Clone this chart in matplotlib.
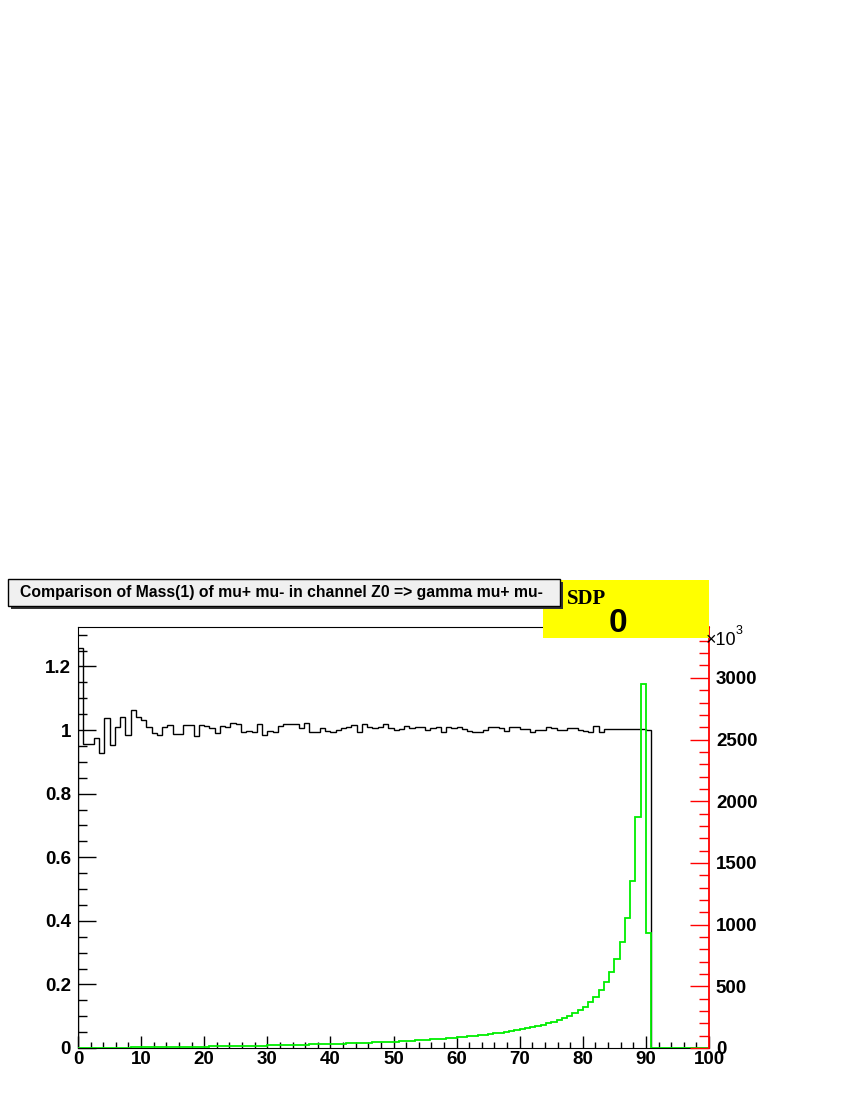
import numpy as np
import matplotlib.pyplot as plt
from matplotlib.patches import Rectangle
from matplotlib.ticker import MultipleLocator, FuncFormatter

plt.rcParams['font.family'] = ['Liberation Sans', 'DejaVu Sans']
plt.rcParams['font.weight'] = 'bold'

# --- data: 120 bins over 0..100, only first 109 filled ---
edges = np.linspace(0, 100, 121)

# ratio histogram (left axis)
ratio = [1.257, 0.955, 0.955, 0.975, 0.928, 1.038, 0.953, 1.010, 1.042, 0.984,
         1.063, 1.042, 1.031, 1.010, 0.990, 0.984, 1.008, 1.016, 0.986, 0.986,
         1.016, 1.016, 0.982, 1.016, 1.013, 1.005, 0.992, 1.013, 1.010, 1.023,
         1.019, 0.993, 0.998, 0.993, 1.019, 0.984, 0.998, 0.993, 1.013, 1.019,
         1.019, 1.019, 1.005, 1.021, 0.993, 0.993, 1.005, 0.998, 0.995, 1.000,
         1.005, 1.008, 1.016, 0.995, 1.019, 1.008, 1.005, 1.010, 1.019, 1.005,
         1.000, 1.003, 1.013, 1.005, 1.010, 1.010, 1.000, 1.005, 1.010, 0.993,
         1.010, 1.005, 1.008, 1.002, 0.998, 0.995, 0.993, 1.000, 1.008, 1.008,
         1.005, 0.998, 1.010, 1.010, 1.003, 1.003, 0.993, 1.000, 1.000, 1.010,
         1.005, 1.000, 1.000, 1.005, 1.005, 1.000, 0.998, 0.995, 1.013, 0.995,
         1.003, 1.003, 1.003, 1.003, 1.002, 1.002, 1.003, 1.003, 1.000]

# mass distribution (right axis, x10^3)
mass = [0.3, 0.6, 0.9, 1.2, 1.6, 2.0, 2.4, 2.9, 3.3, 3.8,
        4.2, 4.7, 5.1, 5.6, 6.1, 6.6, 7.1, 7.6, 8.2, 8.8,
        9.3, 9.9, 10.5, 11.1, 11.8, 12.4, 13.1, 13.8, 14.5, 15.3,
        16.0, 16.8, 17.6, 18.4, 19.3, 20.2, 21.1, 22.0, 23.0, 24.0,
        25.0, 26.1, 27.2, 28.3, 29.5, 30.7, 31.8, 32.9, 34.0, 35.0,
        36.0, 37.5, 39.0, 40.5, 42.0, 43.5, 45.0, 46.5, 48.0, 49.5,
        52.0, 54.0, 56.5, 59.0, 61.5, 64.0, 66.5, 69.0, 72.0, 75.0,
        78, 82, 86, 90, 94, 98, 103, 108, 113, 119,
        125, 131, 138, 145, 152, 160, 169, 179, 190, 202,
        214, 227, 246, 259, 281, 308, 335, 370, 410, 470,
        532, 613, 718, 856, 1056, 1356, 1875, 2950, 934]

ratio_full = np.zeros(120)
ratio_full[:len(ratio)] = ratio
mass_full = np.zeros(120)
mass_full[:len(mass)] = mass

W, H = 850, 1100
def fx(px): return px / W
def fy(py): return 1 - py / H

fig = plt.figure(figsize=(8.5, 11), dpi=100)

# --- main frame ---
ax = fig.add_axes([fx(78), fy(1048), (709 - 78) / W, (1048 - 627) / H])
ax.stairs(ratio_full, edges, color='black', lw=1.0)
ax.set_xlim(0, 100)
ax.set_ylim(0, 1.324)
ax.xaxis.set_major_locator(MultipleLocator(10))
ax.xaxis.set_minor_locator(MultipleLocator(2))
ax.yaxis.set_major_locator(MultipleLocator(0.2))
ax.yaxis.set_minor_locator(MultipleLocator(0.05))
ax.yaxis.set_major_formatter(FuncFormatter(lambda v, p: f'{v:g}'))
ax.tick_params(axis='x', which='major', direction='in', length=9, width=1,
               top=False, labelsize=13.5, pad=2)
ax.tick_params(axis='x', which='minor', direction='in', length=4.5, width=1, top=False)
ax.tick_params(axis='y', which='major', direction='in', length=13, width=1,
               right=False, labelsize=13.5, pad=5)
ax.tick_params(axis='y', which='minor', direction='in', length=6.5, width=1, right=False)
ax.spines['right'].set_visible(False)

# --- right axis (red) ---
ax2 = ax.twinx()
ax2.stairs(mass_full, edges, color='#00ee00', lw=1.3)
ax2.set_ylim(0, 3412)
ax2.yaxis.set_major_locator(MultipleLocator(500))
ax2.yaxis.set_minor_locator(MultipleLocator(100))
for s in ['left', 'top', 'bottom']:
    ax2.spines[s].set_visible(False)
ax2.spines['right'].set_color('red')
ax2.spines['right'].set_linewidth(1.3)
ax2.tick_params(axis='y', which='major', direction='in', length=13.5, width=1,
                color='red', labelcolor='black', labelsize=13.5, pad=5)
ax2.tick_params(axis='y', which='minor', direction='in', length=7, width=1, color='red')
fig.text(fx(706), fy(645), '\u00d710', fontsize=13, fontweight='normal')
fig.text(fx(736), fy(634), '3', fontsize=9, fontweight='normal')

# --- SDP box ---
fig.patches.append(Rectangle((fx(543), fy(638)), (709 - 543) / W, (638 - 580) / H,
                             transform=fig.transFigure, facecolor='#ffff00',
                             edgecolor='none', zorder=2))
fig.text(fx(567), fy(604), 'SDP', fontsize=15, family='Liberation Serif',
         fontweight='bold', va='baseline', zorder=3)
fig.text(fx(618), fy(623), '0', fontsize=24, ha='center', va='center', zorder=3)

# --- title box with shadow (drawn over the yellow box) ---
fig.patches.append(Rectangle((fx(11), fy(609)), (560 - 8) / W, (606 - 579) / H,
                             transform=fig.transFigure, facecolor='#333333',
                             edgecolor='none', zorder=4))
fig.patches.append(Rectangle((fx(8), fy(606)), (560 - 8) / W, (606 - 579) / H,
                             transform=fig.transFigure, facecolor='#f0f0f0',
                             edgecolor='black', lw=1, zorder=5))
fig.text(fx(20), fy(592), 'Comparison of Mass(1) of mu+ mu- in channel Z0 => gamma mu+ mu-',
         fontsize=11.3, va='center', ha='left', zorder=6)

fig.savefig('out.png', dpi=100)
